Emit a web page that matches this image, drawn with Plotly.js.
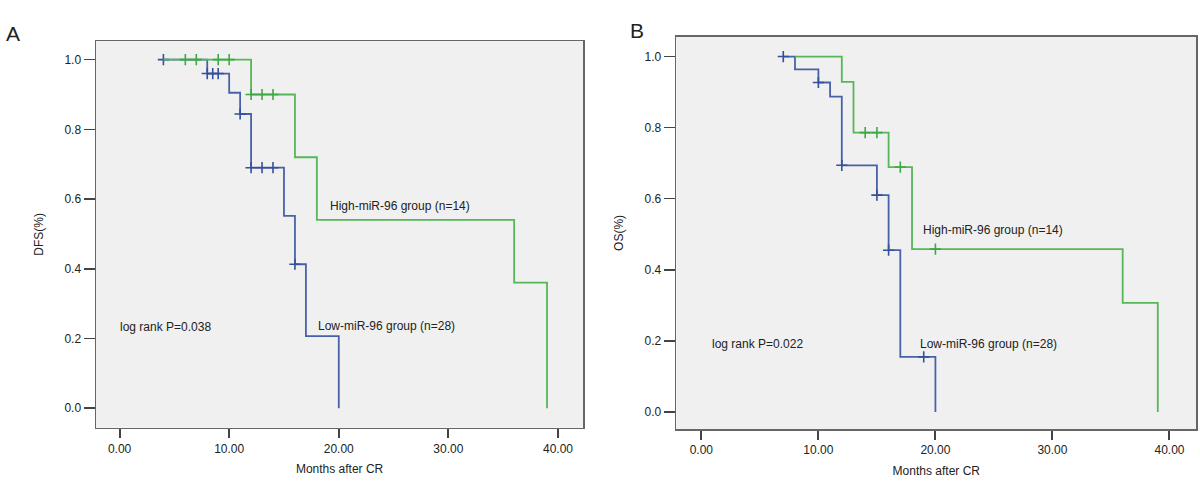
<!DOCTYPE html>
<html>
<head>
<meta charset="utf-8">
<script src="https://cdn.plot.ly/plotly-3.0.1.min.js"></script>
<style>
  html, body { margin: 0; padding: 0; background: #fff; }
  #plot { width: 1200px; height: 502px; }
</style>
</head>
<body>
<div id="plot"></div>
<script>
// Panel A - DFS, step points (time in months, survival)
const dfsLowTimes = [4, 8, 10, 11, 12, 15, 16, 17, 20];
const dfsLowSurv = [1.0, 0.96, 0.905, 0.844, 0.69, 0.552, 0.413, 0.207, 0.0];
const dfsLowCensor = [4, 8, 8.5, 9, 11, 12, 13, 14, 16];

const dfsHighTimes = [4, 12, 16, 18, 36, 39];
const dfsHighSurv = [1.0, 0.9, 0.72, 0.54, 0.36, 0.0];
const dfsHighCensor = [6, 7, 9, 10, 12, 13, 14];

// Panel B - OS
const osLowTimes = [7, 8, 10, 11, 12, 15, 16, 17, 20];
const osLowSurv = [1.0, 0.964, 0.927, 0.887, 0.694, 0.61, 0.455, 0.155, 0.0];
const osLowCensor = [7, 10, 12, 15, 16, 19];

const osHighTimes = [8, 12, 13, 16, 18, 36, 39];
const osHighSurv = [1.0, 0.929, 0.786, 0.689, 0.458, 0.307, 0.0];
const osHighCensor = [14, 15, 17, 20];

const xTicks = [0, 10, 20, 30, 40];
const yTicks = [0, 0.2, 0.4, 0.6, 0.8, 1.0];

const blue = "#4862a9";
const green = "#55b757";

// value of the step curve at time t
function stepAt(times, surv, t) {
  let v = surv[0];
  for (let i = 0; i < times.length; i++) {
    if (times[i] <= t) v = surv[i];
  }
  return v;
}

function curve(times, surv, color, xa, ya) {
  return {
    x: times, y: surv, xaxis: xa, yaxis: ya,
    type: "scatter", mode: "lines",
    line: { shape: "hv", color: color, width: 1.8 },
    hoverinfo: "skip", showlegend: false,
  };
}

function censors(times, surv, cens, color, xa, ya) {
  return {
    x: cens, y: cens.map((t) => stepAt(times, surv, t)), xaxis: xa, yaxis: ya,
    type: "scatter", mode: "markers",
    marker: { symbol: "cross-thin", size: 8, line: { color: color, width: 1.6 } },
    hoverinfo: "skip", showlegend: false,
  };
}

const traces = [
  curve(dfsLowTimes, dfsLowSurv, blue, "x", "y"),
  censors(dfsLowTimes, dfsLowSurv, dfsLowCensor, "#34509a", "x", "y"),
  curve(dfsHighTimes, dfsHighSurv, green, "x", "y"),
  censors(dfsHighTimes, dfsHighSurv, dfsHighCensor, "#3fa845", "x", "y"),
  curve(osLowTimes, osLowSurv, blue, "x2", "y2"),
  censors(osLowTimes, osLowSurv, osLowCensor, "#34509a", "x2", "y2"),
  curve(osHighTimes, osHighSurv, green, "x2", "y2"),
  censors(osHighTimes, osHighSurv, osHighCensor, "#3fa845", "x2", "y2"),
];

const font = { family: "Liberation Sans, Arial, sans-serif", size: 12, color: "#222" };

function xAxis(domain, anchor) {
  return {
    domain: domain, anchor: anchor, range: [-2.15, 42.3],
    tickvals: xTicks, tickformat: ".2f",
    ticks: "outside", ticklen: 9, tickwidth: 2, tickcolor: "#444",
    showline: true, mirror: true, linecolor: "#666", linewidth: 1.5,
    showgrid: false, zeroline: false,
    tickfont: font,
    title: { text: "Months after CR", font: font, standoff: 10 },
  };
}

function yAxis(domain, anchor, range, title) {
  return {
    domain: domain, anchor: anchor, range: range,
    tickvals: yTicks, tickformat: ".1f",
    ticks: "outside", ticklen: 11, tickwidth: 1.5, tickcolor: "#444",
    showline: true, mirror: true, linecolor: "#666", linewidth: 1.5,
    showgrid: false, zeroline: false,
    tickfont: font,
    title: { text: title, font: font, standoff: 18 },
  };
}

const layout = {
  width: 1200, height: 502,
  margin: { l: 0, r: 0, t: 0, b: 0 },
  paper_bgcolor: "#fff",
  plot_bgcolor: "#f0f0f0",
  font: font,
  xaxis: xAxis([0.08, 0.486], "y"),
  yaxis: yAxis([0.148, 0.918], "x", [-0.056, 1.053], "DFS(%)"),
  xaxis2: xAxis([0.5635, 0.997], "y2"),
  yaxis2: yAxis([0.145, 0.927], "x2", [-0.0487, 1.056], "OS(%)"),
  annotations: [
    { text: "A", xref: "paper", yref: "paper", x: 0.011, y: 0.933, xanchor: "center", yanchor: "middle", showarrow: false, font: { ...font, size: 21 } },
    { text: "B", xref: "paper", yref: "paper", x: 0.5305, y: 0.94, xanchor: "center", yanchor: "middle", showarrow: false, font: { ...font, size: 21 } },
    { text: "log rank P=0.038", xref: "x", yref: "y", x: -0.1, y: 0.233, xanchor: "left", showarrow: false },
    { text: "High-miR-96 group (n=14)", xref: "x", yref: "y", x: 19.05, y: 0.58, xanchor: "left", showarrow: false },
    { text: "Low-miR-96 group (n=28)", xref: "x", yref: "y", x: 17.95, y: 0.236, xanchor: "left", showarrow: false },
    { text: "log rank P=0.022", xref: "x2", yref: "y2", x: 0.77, y: 0.19, xanchor: "left", showarrow: false },
    { text: "High-miR-96 group (n=14)", xref: "x2", yref: "y2", x: 18.74, y: 0.512, xanchor: "left", showarrow: false },
    { text: "Low-miR-96 group (n=28)", xref: "x2", yref: "y2", x: 18.5, y: 0.19, xanchor: "left", showarrow: false },
  ],
};

Plotly.newPlot("plot", traces, layout, { staticPlot: true });
</script>
</body>
</html>
